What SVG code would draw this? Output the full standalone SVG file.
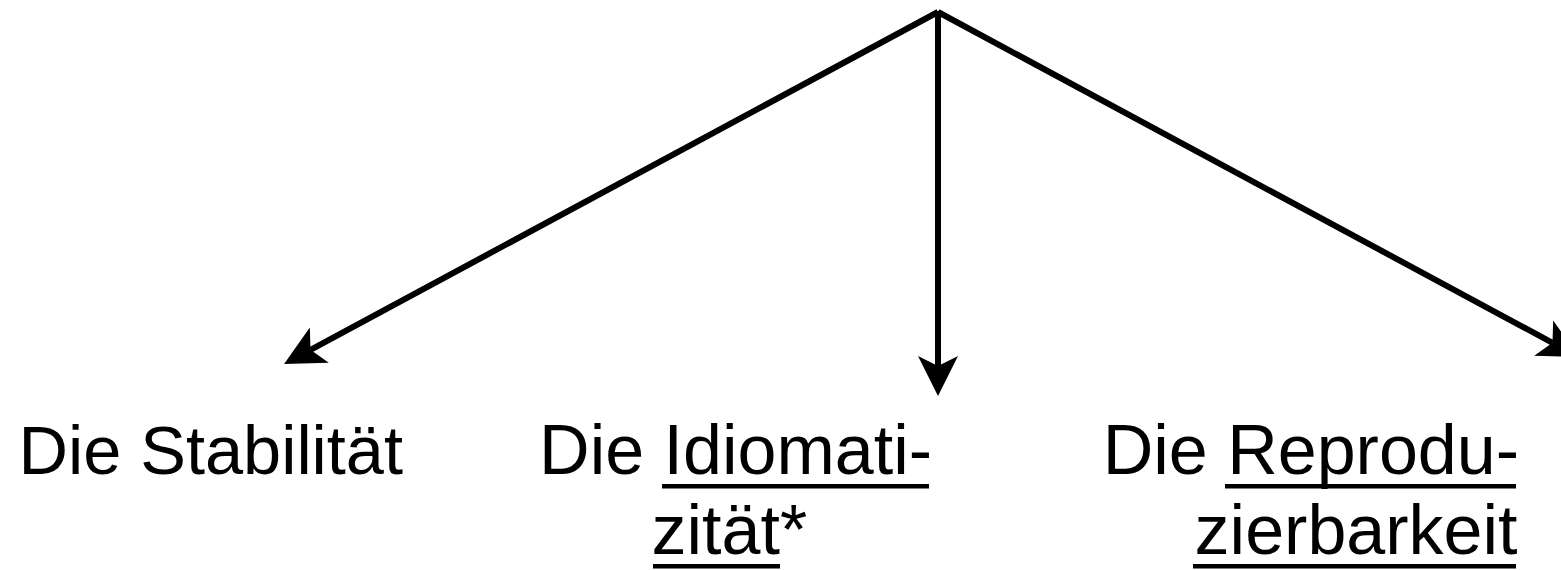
<svg xmlns="http://www.w3.org/2000/svg" width="1561" height="570" viewBox="0 0 1561 570">
<style>
.lbl{font-family:"Liberation Sans",Arial,sans-serif;font-size:70px;fill:#000;text-anchor:end}
.ul{fill:#000}
.conn{stroke:#000;stroke-width:6;fill:none}
</style>
<defs>
<marker id="ah" viewBox="-12 -22 44 44" refX="0" refY="0" markerWidth="44" markerHeight="44" markerUnits="userSpaceOnUse" orient="auto">
<path d="M30,0 L-10,-20 L0,0 L-10,20 Z" fill="#000"/>
</marker>
</defs>
<rect width="1561" height="570" fill="#fff"/>
<g id="connectors">
<line class="conn" x1="938" y1="12" x2="310.5" y2="349.8" marker-end="url(#ah)"/>
<line class="conn" x1="938" y1="11" x2="938" y2="366" marker-end="url(#ah)"/>
<line class="conn" x1="938" y1="12" x2="1552.5" y2="342.8" marker-end="url(#ah)"/>
</g>
<g id="node-stabilitaet">
<text class="lbl" x="403" y="474" style="font-size:68.5px">Die Stabilität</text>
</g>
<g id="node-idiomatizitaet">
<text class="lbl" x="932" y="474">Die Idiomati-</text>
<rect class="ul" x="662" y="484" width="267" height="4.5"/>
<text class="lbl" x="651.5" y="554" style="text-anchor:start">zität*</text>
<rect class="ul" x="653" y="564" width="127" height="4.5"/>
</g>
<g id="node-reproduzierbarkeit">
<text class="lbl" x="1519" y="474">Die Reprodu-</text>
<rect class="ul" x="1225" y="484" width="291" height="4.5"/>
<text class="lbl" x="1517.5" y="554">zierbarkeit</text>
<rect class="ul" x="1193" y="564" width="323" height="4.5"/>
</g>
</svg>
